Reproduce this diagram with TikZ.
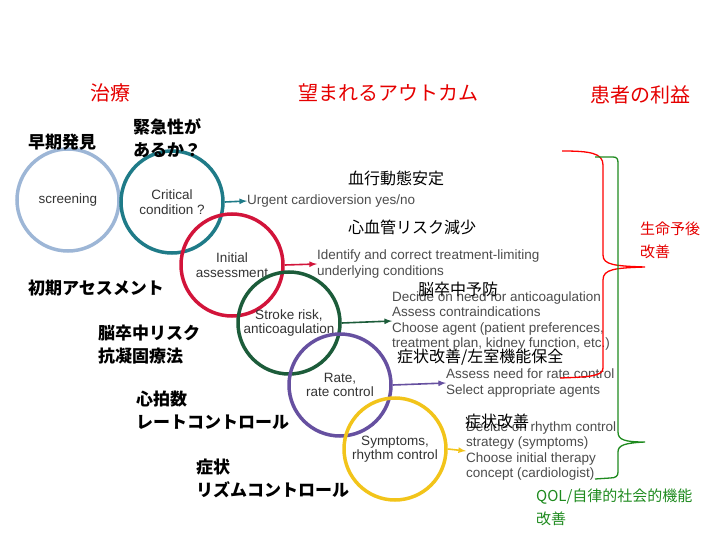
\documentclass[tikz,border=0pt]{standalone}
\usepackage{fontspec}
\setmainfont{Liberation Sans}
\newfontfamily\jp{Noto Sans CJK JP}
\begin{document}
\begin{tikzpicture}[x=1pt,y=-1pt,
  ring/.style={draw=#1,line width=3.5pt,circle,minimum size=102pt,inner sep=0pt,align=center,font=\fontsize{13.5}{14.5}\selectfont,text=black!80},
  arr/.style={draw=#1,line width=1.6pt,-latex},
  desc/.style={anchor=west,align=left,font=\fontsize{13.5}{15.5}\selectfont,text=black!70,inner sep=0pt},
  jl/.style={anchor=west,align=left,font=\jp\bfseries\fontsize{17}{23}\selectfont,inner sep=0pt},
  jo/.style={anchor=west,align=left,font=\jp\fontsize{16}{22}\selectfont,inner sep=0pt},
  hd/.style={anchor=center,font=\jp\fontsize{20}{22}\selectfont,text=red!90!black,inner sep=0pt}]
\useasboundingbox (0,0) rectangle (720,540);
\definecolor{cblue}{HTML}{9DB6D6}\definecolor{cteal}{HTML}{1F7B88}
\definecolor{cred}{HTML}{D2143A}\definecolor{cgreen}{HTML}{1C5C3A}
\definecolor{cpurple}{HTML}{6650A0}\definecolor{cyellow}{HTML}{F2C41A}
\definecolor{bgreen}{HTML}{1E8A1E}
\node[ring=cblue] (s) at (68,200) {screening};
\node[ring=cteal] (c) at (172,202) {Critical\\condition ?};
\node[ring=cred] (i) at (232,265) {Initial\\assessment};
\node[ring=cgreen] (k) at (289,323) {Stroke risk,\\anticoagulation};
\node[ring=cpurple] (r) at (340,385) {Rate,\\rate control};
\node[ring=cyellow] (y) at (395,449) {Symptoms,\\rhythm control};
\node[desc] (t1) at (247,201) {Urgent cardioversion yes/no};
\node[desc] (t2) at (317,264) {Identify and correct treatment-limiting\\underlying conditions};
\node[desc] (t3) at (392,321) {Decide on need for anticoagulation\\Assess contraindications\\Choose agent (patient preferences,\\treatment plan, kidney function, etc.)};
\node[desc] (t4) at (446,383) {Assess need for rate control\\Select appropriate agents};
\node[desc] (t5) at (466,451) {Decide on rhythm control\\strategy (symptoms)\\Choose initial therapy\\concept (cardiologist)};
\draw[arr=cteal] (c.east) -- (t1.west);
\draw[arr=cred] (i.east) -- (t2.west);
\draw[arr=cgreen] (k.east) -- (t3.west);
\draw[arr=cpurple] (r.east) -- (t4.west);
\draw[arr=cyellow] (y.east) -- (t5.west);
\node[hd] (h1) at (110,93) {治療};
\node[hd] (h2) at (388,93) {望まれるアウトカム};
\node[hd] (h3) at (640,95) {患者の利益};
\node[jl] (a1) at (28,142) {早期発見};
\node[jl] (a2) at (133,138) {緊急性が\\あるか？};
\node[jl] (a3) at (28,288) {初期アセスメント};
\node[jl] (a4) at (98,345) {脳卒中リスク\\抗凝固療法};
\node[jl] (a5) at (136,410) {心拍数\\レートコントロール};
\node[jl] (a6) at (196,478) {症状\\リズムコントロール};
\node[jo] (o1) at (348,178) {血行動態安定};
\node[jo] (o2) at (348,227) {心血管リスク減少};
\node[jo] (o3) at (418,289) {脳卒中予防};
\node[jo] (o4) at (397,357) {症状改善/左室機能保全};
\node[jo] (o5) at (465,421) {症状改善};
\node[anchor=west,align=left,font=\jp\fontsize{15}{23}\selectfont,text=red!90!black,inner sep=0pt] (p1) at (640,240) {生命予後\\改善};
\node[anchor=west,align=left,font=\jp\fontsize{15}{23}\selectfont,text=bgreen,inner sep=0pt] (p2) at (536,507) {QOL/自律的社会的機能\\改善};
\draw[red,line width=1.3pt] (562,151) .. controls (590,151) and (603,153) .. (603,165) -- (603,255) .. controls (603,265) and (615,266) .. (645,267) .. controls (615,268) and (603,269) .. (603,280) -- (603,368) .. controls (603,376) and (590,377) .. (560,378);
\draw[bgreen,line width=1.3pt] (595,157) -- (613,157) .. controls (617,157) and (618,159) .. (618,163) -- (618,432) .. controls (618,440) and (625,442) .. (645,442) .. controls (625,443) and (618,445) .. (618,452) -- (618,472) .. controls (618,476) and (616,478) .. (610,478) -- (595,479);
\end{tikzpicture}
\end{document}
